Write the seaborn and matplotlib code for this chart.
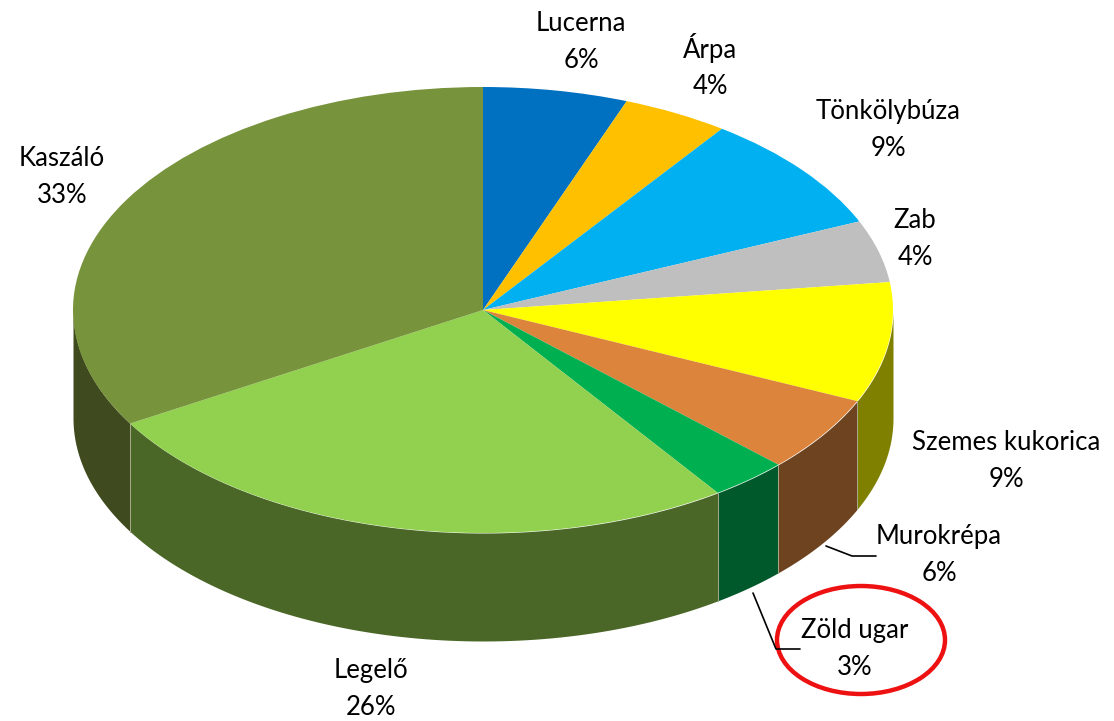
import numpy as np
import seaborn as sns
import matplotlib.pyplot as plt
from matplotlib.patches import Ellipse

names = ['Lucerna', 'Árpa', 'Tönkölybúza', 'Zab', 'Szemes kukorica',
         'Murokrépa', 'Zöld ugar', 'Legelő', 'Kaszáló']
# slice sizes as they are drawn, and the rounded percents printed on the labels
drawn = [5.7, 4.2, 8.6, 4.5, 8.7, 5.5, 3.1, 26.2, 33.5]
percent = [6, 4, 9, 4, 9, 6, 3, 26, 33]

top_colors = ['#0070C0', '#FFC000', '#00B0F0', '#BFBFBF', '#FFFF00',
              '#DC843C', '#00B050', '#92D050', '#77933C']
wall_colors = ['#00426F', '#8F6C00', '#006A90', '#707070', '#808000',
               '#6E4320', '#00592B', '#4B6727', '#3F4A1E']

# label centres in pixels
label_x = [581, 710, 888, 915, 1006, 939, 855, 371, 62]
label_y = [42, 66, 130, 239, 461, 555, 649, 689, 177]

sns.set_theme(style='white')
plt.rcParams['font.family'] = ['Lato', 'DejaVu Sans']

W, H = 1114, 721
cx, cy, rx, ry, depth = 483, 310, 410, 223, 108

fig = plt.figure(figsize=(W / 100, H / 100), dpi=100)

# pie axes: one data unit is rx pixels across and ry pixels down, so the circle goes flat
ax = fig.add_axes([0, 0, 1, 1])
ax.pie(drawn, colors=sns.color_palette(top_colors), startangle=90, counterclock=False,
       radius=1, wedgeprops={'linewidth': 0, 'zorder': 3}, normalize=True)
ax.set_aspect('auto')
ax.set_xlim(-cx / rx, (W - cx) / rx)
ax.set_ylim((cy - H) / ry, cy / ry)
ax.axis('off')

# side walls, only the front half of the rim shows
d = depth / ry
edges = np.cumsum([0] + drawn) / sum(drawn) * 2 * np.pi
for i in range(len(drawn)):
    a0 = max(edges[i], np.pi / 2)
    a1 = min(edges[i + 1], 3 * np.pi / 2)
    if a1 <= a0:
        continue
    t = np.linspace(a0, a1, 80)
    x, y = np.sin(t), np.cos(t)
    ax.fill_between(x, y, y - d, color=wall_colors[i], linewidth=0, zorder=1)
    if edges[i] > np.pi / 2:
        ax.plot([x[0], x[0]], [y[0], y[0] - d], color='#A8A88C', lw=0.6, zorder=2)
    if edges[i + 1] < 3 * np.pi / 2:
        ax.plot([x[-1], x[-1]], [y[-1], y[-1] - d], color='#A8A88C', lw=0.6, zorder=2)

# overlay in pixels for labels, leader lines and the red ring
top = fig.add_axes([0, 0, 1, 1])
top.patch.set_alpha(0)
top.set_xlim(0, W)
top.set_ylim(H, 0)
top.axis('off')

for n, p, lx, ly in zip(names, percent, label_x, label_y):
    top.text(lx, ly, f'{n}\n{p}%', ha='center', va='center', fontsize=18.5,
             linespacing=1.58, color='black')

top.plot([826, 852, 876], [546, 556, 556], color='black', lw=1.2)
top.plot([753, 776, 800], [593, 649, 649], color='black', lw=1.2)
top.add_patch(Ellipse((861, 640), 168, 108, fill=False, edgecolor='#EE1111', lw=3.2))

fig.savefig('out.png', dpi=100)
